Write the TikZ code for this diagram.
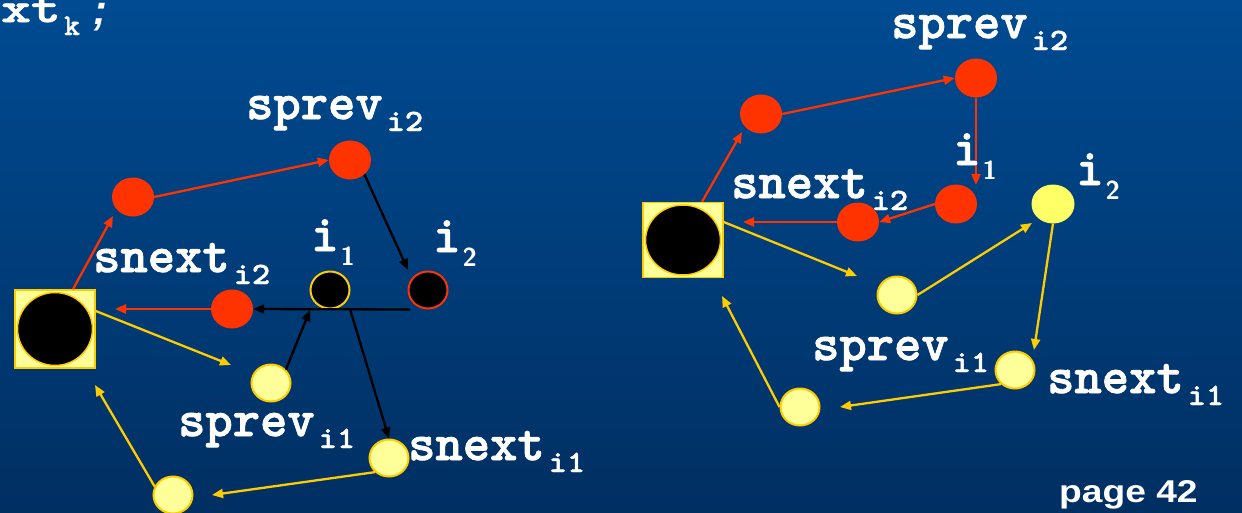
\documentclass[tikz,border=0pt]{standalone}
\usepackage{fontspec}
\setmainfont{Liberation Sans}
% heavy slab typewriter for the variable names
\newfontfamily\slabtt{lmmonolt10-bold.otf}[FakeBold=1.6]
\newfontfamily\slabttsub{lmmonolt10-bold.otf}[FakeBold=1.4]
\usetikzlibrary{shapes.geometric,arrows.meta}

\definecolor{bgtop}{RGB}{0,75,146}
\definecolor{bgbot}{RGB}{0,47,98}
\definecolor{ptred}{RGB}{255,51,0}
\definecolor{ptyel}{RGB}{255,204,0}
\definecolor{ptpale}{RGB}{255,255,153}
\definecolor{ptbright}{RGB}{255,255,102}

% label helpers: bold typewriter name with a lowered index
\newcommand{\mainsz}{\slabtt\fontsize{52}{52}\selectfont}
\newcommand{\subsz}{\slabttsub\fontsize{31}{31}\selectfont}
\newcommand{\digsz}{\sffamily\bfseries\fontsize{26}{26}\selectfont}
\newcommand{\varlbl}[2]{{\mainsz #1}\kern4pt\raisebox{-12pt}{\scalebox{1.12}[1]{\subsz #2}}}
\newcommand{\idxlbl}[2]{{\mainsz #1}\kern2pt\raisebox{-14pt}{\digsz #2}}

\tikzset{
  redball/.style={ellipse, fill=ptred, minimum width=42pt, minimum height=39pt, inner sep=0pt},
  paleball/.style={ellipse, fill=ptpale, draw=ptyel, line width=2pt, minimum width=39pt, minimum height=37pt, inner sep=0pt},
  brightball/.style={ellipse, fill=ptbright, draw=ptbright!90!ptyel, line width=1pt, minimum width=42pt, minimum height=38pt, inner sep=0pt},
  blackring/.style={ellipse, fill=black, line width=2pt, minimum width=39pt, minimum height=37pt, inner sep=0pt},
  sqbox/.style={rectangle, fill=ptpale, draw=ptyel, line width=1.5pt, minimum width=80pt, inner sep=0pt},
  sqcore/.style={ellipse, fill=black, draw=ptyel, line width=1.5pt, minimum width=75pt, inner sep=0pt},
  link/.style={line width=2.3pt, -{Triangle[length=11pt,width=9pt]}},
  redlink/.style={link, ptred},
  yellink/.style={link, ptyel},
  blklink/.style={link, black},
  lbl/.style={text=white, inner sep=0pt, anchor=base west},
}

\begin{document}
\begin{tikzpicture}[x=1pt, y=-1pt]
  % background
  \shade[top color=bgtop, bottom color=bgbot] (0,0) rectangle (1242,512);
  \useasboundingbox (0,0) rectangle (1242,512);

  % tail of the heading line
  \begin{scope}
    \clip (0,0) rectangle (1242,512);
    \node[lbl] (headxt) at (1,22) {\scalebox{1.35}[1]{\slabtt\fontsize{42}{42}\selectfont xt}};
    \node[lbl] (headk) at (64,35) {\slabttsub\fontsize{30}{30}\selectfont k};
    \node[lbl] (headsc) at (93,24) {\bfseries\itshape\fontsize{42}{42}\selectfont ;};
  \end{scope}

  % ---------------- left list ----------------
  \node[sqbox, minimum height=78pt] (Lsq) at (55,329) {};
  \node[sqcore, minimum height=73pt] (Lsqc) at (55,329) {};
  \node[redball] (La) at (133,197) {};
  \node[redball] (Lp2) at (350,160) {};
  \node[blackring, draw=ptyel] (Li1) at (330,290) {};
  \node[blackring, draw=ptred] (Li2) at (428,290) {};
  \node[redball] (Ln2) at (232,309) {};
  \node[paleball] (Lp1) at (271,383) {};
  \node[paleball] (Ln1) at (389,458) {};
  \node[paleball] (Lb) at (173,495) {};

  \coordinate (Lc1) at (113,216);
  \coordinate (Lc3) at (115,309);
  \coordinate (Lc4) at (408,270);
  \coordinate (Lc6) at (310,310);
  \coordinate (Lc7) at (350,309);
  \coordinate (Lc8) at (231,365);
  \coordinate (Lc9) at (212,495);
  \coordinate (Lc10) at (95,385);

  \draw[redlink] ([xshift=18pt]Lsq.north) -- (Lc1);
  \draw[redlink] (La.east) -- (Lp2.west);
  \draw[redlink] (Ln2.west) -- (Lc3);
  \draw[blklink] (Lp2.-45) -- (Lc4);
  \draw[blklink] ([xshift=-18pt]Li2.south) -- (Ln2.east);
  \draw[blklink] (Lp1.42) -- (Lc6);
  \draw[blklink] (Lc7) -- (Ln1.north);
  \draw[yellink] ([yshift=18pt]Lsq.east) -- (Lc8);
  \draw[yellink] (Ln1.225) -- (Lc9);
  \draw[yellink] (Lb.155) -- (Lc10);

  \node[lbl] (Llp2) at (246,119) {\varlbl{sprev}{i2}};
  \node[lbl] (Lln2) at (93,272) {\varlbl{snext}{i2}};
  \node[lbl] (Llp1) at (178,436) {\varlbl{sprev}{i1}};
  \node[lbl] (Lln1) at (408,460) {\varlbl{snext}{i1}};
  \node[lbl] (Lli1) at (311,251) {\idxlbl{i}{1}};
  \node[lbl] (Lli2) at (433,252) {\idxlbl{i}{2}};

  % ---------------- right list ----------------
  \node[sqbox, minimum height=75pt] (Rsq) at (683,240) {};
  \node[sqcore, minimum height=70pt] (Rsqc) at (683,240) {};
  \node[redball] (Ra) at (761,114) {};
  \node[redball] (Rp2) at (976,78) {};
  \node[redball] (Ri1) at (956,204) {};
  \node[redball] (Rn2) at (858,222) {};
  \node[brightball] (Ri2) at (1053,204) {};
  \node[paleball] (Rp1) at (897,295) {};
  \node[paleball] (Rn1) at (1015,370) {};
  \node[paleball] (Rb) at (800,407) {};

  \coordinate (Rc1) at (742,132);
  \coordinate (Rc3) at (976,185);
  \coordinate (Rc5) at (743,222);
  \coordinate (Rc6) at (857,276);
  \coordinate (Rc7) at (1032,223);
  \coordinate (Rc8) at (1034,350);
  \coordinate (Rc9) at (840,407);
  \coordinate (Rc10) at (722,296);

  \draw[redlink] ([xshift=19pt]Rsq.north) -- (Rc1);
  \draw[redlink] (Ra.east) -- (Rp2.west);
  \draw[redlink] (Rp2.south) -- (Rc3);
  \draw[redlink] (Ri1.west) -- (Rn2.east);
  \draw[redlink] (Rn2.west) -- (Rc5);
  \draw[yellink] ([yshift=18pt]Rsq.east) -- (Rc6);
  \draw[yellink] (Rp1.east) -- (Rc7);
  \draw[yellink] (Ri2.south) -- (Rc8);
  \draw[yellink] (Rn1.225) -- (Rc9);
  \draw[yellink] (Rb.west) -- (Rc10);

  \node[lbl] (Rlp2) at (891,38) {\varlbl{sprev}{i2}};
  \node[lbl] (Rln2) at (731,198) {\varlbl{snext}{i2}};
  \node[lbl] (Rlp1) at (812,360) {\varlbl{sprev}{i1}};
  \node[lbl] (Rln1) at (1047,393) {\varlbl{snext}{i1}};
  \node[lbl] (Rli1) at (953,165) {\idxlbl{i}{1}};
  \node[lbl] (Rli2) at (1076,185) {\idxlbl{i}{2}};

  \node[lbl] (page) at (1059,502) {\scalebox{1.18}[1]{\bfseries\fontsize{31.5}{31.5}\selectfont page 42}};
\end{tikzpicture}
\end{document}
